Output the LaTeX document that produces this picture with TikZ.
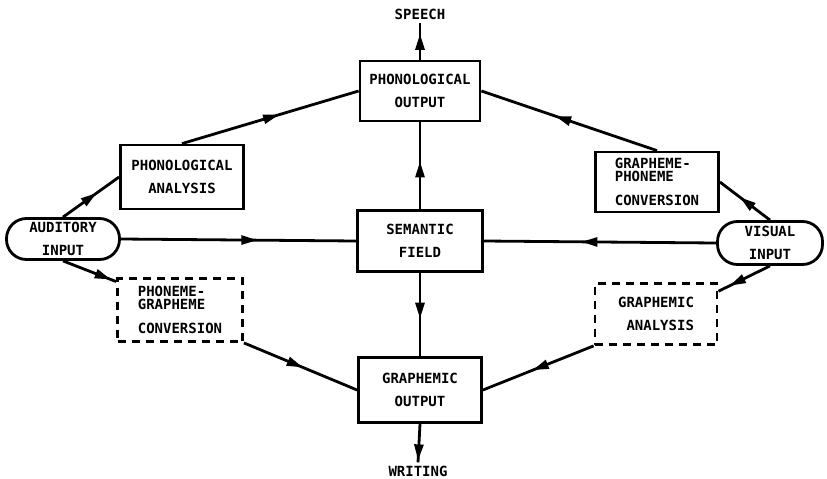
\documentclass[tikz,border=0pt]{standalone}
\usepackage{fontspec}
\setmonofont{DejaVu Sans Mono}
\usetikzlibrary{arrows.meta,decorations.markings}
\tikzset{
every picture/.style={line width=2.8pt}
}
\tikzset{
  block/.style={draw, rectangle, inner sep=2pt, align=center,
    minimum width=123pt, minimum height=62pt,
    font=\ttfamily\bfseries\fontsize{14}{22.5}\selectfont},
  dashblock/.style={block, dash pattern=on 8pt off 6pt},
  inputblock/.style={block, rounded corners=20pt, minimum height=42pt},
  outtext/.style={inner sep=2pt, font=\ttfamily\bfseries\fontsize{14}{22}\selectfont},
  flow/.style={postaction={decorate}, decoration={markings,
    mark=at position #1 with {\arrow{Triangle[length=16pt,width=9pt]}}}},
  flow/.default=0.55
}
\begin{document}
\begin{tikzpicture}[x=1pt, y=-1pt]
  \useasboundingbox (0,0) rectangle (827,479);
  \node[block, minimum width=120pt, minimum height=60pt] (phonout) at (420,91) {PHONOLOGICAL\\OUTPUT};
  \node[block, minimum width=125pt, minimum height=61pt] (semfield) at (420,241) {SEMANTIC\\FIELD};
  \node[block, minimum height=65pt] (graphout) at (420,390) {GRAPHEMIC\\OUTPUT};
  \node[block, minimum height=64pt] (phonan) at (182,177) {PHONOLOGICAL\\ANALYSIS};
  \node[dashblock, align=left, minimum width=125pt, minimum height=63pt] (phongraph) at (180,310)
    {PHONEME-\\[-9.5pt]GRAPHEME\\[1pt]CONVERSION};
  \node[block, align=left, minimum height=60pt] (graphphon) at (657,182)
    {GRAPHEME-\\[-9.5pt]PHONEME\\[1pt]CONVERSION};
  \node[dashblock, minimum width=122pt, minimum height=61pt] (graphan) at (656,314) {GRAPHEMIC\\\ ANALYSIS};
  \node[inputblock, minimum width=113pt, minimum height=41pt] (audin) at (63,239) {AUDITORY\\INPUT};
  \node[inputblock, minimum width=105pt, minimum height=43pt] (visin) at (770,243) {VISUAL\\INPUT};
  \node[outtext] (speech) at (420,14) {SPEECH};
  \node[outtext] (writing) at (418,471) {WRITING};

  \foreach \a/\b/\p in {audin.north/phonan.west/0.6, audin.east/semfield.west/0.58,
      audin.south/phongraph.156/0.9, phonan.north/phonout.west/0.55,
      graphphon.north/phonout.east/0.58, visin.north/graphphon.east/0.6,
      visin.west/semfield.east/0.58, visin.south/graphan.20/0.78,
      phongraph.south east/graphout.west/0.52, graphan.south west/graphout.east/0.55,
      semfield.north/phonout.south/0.55, semfield.south/graphout.north/0.55,
      phonout.north/speech.south/0.7, graphout.south/writing.north/0.95}
    \draw[flow=\p] (\a) -- (\b);
\end{tikzpicture}
\end{document}
